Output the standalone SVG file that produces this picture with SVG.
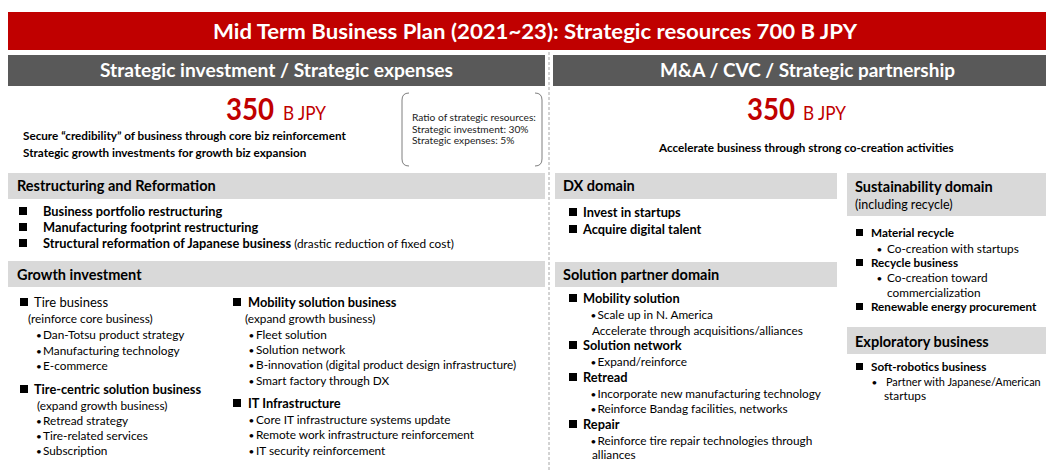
<svg xmlns="http://www.w3.org/2000/svg" width="1046" height="470" viewBox="0 0 1046 470">
<style>
text{font-family:Lato,"Liberation Sans",sans-serif;fill:#000}
.w{fill:#fff;font-weight:700}
.red{fill:#C00000}
.hd{font-weight:700;font-size:14.5px}
.bb{font-weight:700;font-size:12.8px}
.sb{font-weight:700;font-size:11.7px}
.rg{font-size:11.8px}
.bu{font-size:10px}
.sm{font-size:10.2px;fill:#222}
.bar{fill:#D9D9D9}
.dk{fill:#595959}
.sq{fill:#000}
</style>
<rect width="1046" height="470" fill="#fff"/>

<g id="title">
<rect x="8" y="12" width="1038" height="38" fill="#C00000"/>
<text class="w" x="213" y="39" font-size="21" textLength="644" lengthAdjust="spacingAndGlyphs">Mid Term Business Plan (2021~23): Strategic resources 700 B JPY</text>
</g>

<g id="separator">
<line x1="549" y1="52" x2="549" y2="470" stroke="#A6A6A6" stroke-width="1" stroke-dasharray="3,2"/>
</g>

<g id="left-header">
<rect class="dk" x="8" y="55" width="537" height="31"/>
<text class="w" x="100" y="77" font-size="19" textLength="353" lengthAdjust="spacingAndGlyphs">Strategic investment / Strategic expenses</text>
</g>

<g id="right-header">
<rect class="dk" x="553" y="55" width="493" height="31"/>
<text class="w" x="660" y="77" font-size="19" textLength="295" lengthAdjust="spacingAndGlyphs">M&amp;A / CVC / Strategic partnership</text>
</g>

<g id="left-summary">
<text class="red" x="226" y="120" font-size="30" font-weight="700" textLength="48" lengthAdjust="spacingAndGlyphs">350</text>
<text class="red" x="283" y="120" font-size="19" textLength="43" lengthAdjust="spacingAndGlyphs">B JPY</text>
<text class="sb" x="23" y="140">Secure “credibility” of business through core biz reinforcement</text>
<text class="sb" x="23" y="157">Strategic growth investments for growth biz expansion</text>
</g>

<g id="ratio-box">
<path d="M409 93 Q402 93 402 100 L402 159 Q402 166 409 166 M535 93 Q542 93 542 100 L542 159 Q542 166 535 166" fill="none" stroke="#7F7F7F" stroke-width="1"/>
<text class="sm" x="412" y="121">Ratio of strategic resources:</text>
<text class="sm" x="412" y="132.5">Strategic investment: 30%</text>
<text class="sm" x="412" y="144">Strategic expenses: 5%</text>
</g>

<g id="right-summary">
<text class="red" x="747" y="120" font-size="30" font-weight="700" textLength="48" lengthAdjust="spacingAndGlyphs">350</text>
<text class="red" x="803" y="120" font-size="19" textLength="43" lengthAdjust="spacingAndGlyphs">B JPY</text>
<text class="sb" x="659" y="152">Accelerate business through strong co-creation activities</text>
</g>

<g id="restructuring">
<rect class="bar" x="8" y="173" width="537" height="26"/>
<text class="hd" x="17" y="191">Restructuring and Reformation</text>
<rect class="sq" x="19" y="207" width="8" height="8"/>
<text class="bb" x="43" y="216">Business portfolio restructuring</text>
<rect class="sq" x="19" y="223" width="8" height="8"/>
<text class="bb" x="43" y="232">Manufacturing footprint restructuring</text>
<rect class="sq" x="19" y="239" width="8" height="8"/>
<text class="bb" x="43" y="248">Structural reformation of Japanese business <tspan font-weight="400" font-size="11.8">(drastic reduction of fixed cost)</tspan></text>
</g>

<g id="growth-investment">
<rect class="bar" x="8" y="261" width="537" height="26"/>
<text class="hd" x="17" y="280">Growth investment</text>

<rect class="sq" x="20" y="298" width="8" height="8"/>
<text x="34" y="307" font-size="13">Tire business</text>
<text class="rg" x="28" y="323">(reinforce core business)</text>
<text class="bu" x="36" y="339">•</text><text class="rg" x="43" y="339">Dan-Totsu product strategy</text>
<text class="bu" x="36" y="355">•</text><text class="rg" x="43" y="355">Manufacturing technology</text>
<text class="bu" x="36" y="370">•</text><text class="rg" x="43" y="370">E-commerce</text>

<rect class="sq" x="20" y="385" width="8" height="8"/>
<text class="bb" x="34" y="394">Tire-centric solution business</text>
<text class="rg" x="37" y="410">(expand growth business)</text>
<text class="bu" x="36" y="425">•</text><text class="rg" x="43" y="425">Retread strategy</text>
<text class="bu" x="36" y="440">•</text><text class="rg" x="43" y="440">Tire-related services</text>
<text class="bu" x="36" y="455">•</text><text class="rg" x="43" y="455">Subscription</text>

<rect class="sq" x="233" y="298" width="8" height="8"/>
<text class="bb" x="248" y="307">Mobility solution business</text>
<text class="rg" x="245" y="323">(expand growth business)</text>
<text class="bu" x="248.5" y="339">•</text><text class="rg" x="256" y="339">Fleet solution</text>
<text class="bu" x="248.5" y="354">•</text><text class="rg" x="256" y="354">Solution network</text>
<text class="bu" x="248.5" y="369">•</text><text class="rg" x="256" y="369">B-innovation (digital product design infrastructure)</text>
<text class="bu" x="248.5" y="385">•</text><text class="rg" x="256" y="385">Smart factory through DX</text>

<rect class="sq" x="233" y="399" width="8" height="8"/>
<text class="bb" x="248" y="408">IT Infrastructure</text>
<text class="bu" x="248.5" y="424">•</text><text class="rg" x="256" y="424">Core IT infrastructure systems update</text>
<text class="bu" x="248.5" y="439">•</text><text class="rg" x="256" y="439">Remote work infrastructure reinforcement</text>
<text class="bu" x="248.5" y="455">•</text><text class="rg" x="256" y="455">IT security reinforcement</text>
</g>

<g id="dx-domain">
<rect class="bar" x="555" y="173" width="282" height="26"/>
<text class="hd" x="563" y="191">DX domain</text>
<rect class="sq" x="569" y="208" width="8" height="8"/>
<text class="bb" x="583" y="217">Invest in startups</text>
<rect class="sq" x="569" y="225" width="8" height="8"/>
<text class="bb" x="583" y="234">Acquire digital talent</text>
</g>

<g id="solution-partner-domain">
<rect class="bar" x="555" y="262" width="282" height="25"/>
<text class="hd" x="563" y="280">Solution partner domain</text>
<rect class="sq" x="569" y="294" width="8" height="8"/>
<text class="bb" x="583" y="303">Mobility solution</text>
<text class="bu" x="590.5" y="319">•</text><text class="rg" x="597.5" y="319">Scale up in N. America</text>
<text class="rg" x="592" y="335">Accelerate through acquisitions/alliances</text>
<rect class="sq" x="569" y="341" width="8" height="8"/>
<text class="bb" x="583" y="350">Solution network</text>
<text class="bu" x="590.5" y="366">•</text><text class="rg" x="597.5" y="366">Expand/reinforce</text>
<rect class="sq" x="569" y="373" width="8" height="8"/>
<text class="bb" x="583" y="382">Retread</text>
<text class="bu" x="590.5" y="398">•</text><text class="rg" x="597.5" y="398">Incorporate new manufacturing technology</text>
<text class="bu" x="590.5" y="413">•</text><text class="rg" x="597.5" y="413">Reinforce Bandag facilities, networks</text>
<rect class="sq" x="569" y="420" width="8" height="8"/>
<text class="bb" x="583" y="429">Repair</text>
<text class="bu" x="590.5" y="445">•</text><text class="rg" x="597.5" y="445">Reinforce tire repair technologies through</text>
<text class="rg" x="592" y="459">alliances</text>
</g>

<g id="sustainability-domain">
<rect class="bar" x="847" y="173" width="199" height="43"/>
<text class="hd" x="855" y="192">Sustainability domain</text>
<text x="855" y="209" font-size="12.5">(including recycle)</text>
<rect class="sq" x="856" y="229" width="7" height="7"/>
<text class="sb" x="871" y="237">Material recycle</text>
<text class="bu" x="876.5" y="253">•</text><text class="rg" x="887" y="253">Co-creation with startups</text>
<rect class="sq" x="856" y="259" width="7" height="7"/>
<text class="sb" x="871" y="267">Recycle business</text>
<text class="bu" x="876.5" y="282">•</text><text class="rg" x="887" y="282">Co-creation toward</text>
<text class="rg" x="887" y="297">commercialization</text>
<rect class="sq" x="856" y="303" width="7" height="7"/>
<text class="sb" x="871" y="311">Renewable energy procurement</text>
</g>

<g id="exploratory-business">
<rect class="bar" x="847" y="327" width="199" height="27"/>
<text class="hd" x="855" y="347">Exploratory business</text>
<rect class="sq" x="856" y="363" width="7" height="7"/>
<text class="sb" x="871" y="371">Soft-robotics business</text>
<text class="bu" x="871.5" y="386">•</text><text x="886" y="386" font-size="10.9">Partner with Japanese/American</text>
<text class="rg" x="884" y="400">startups</text>
</g>
</svg>
